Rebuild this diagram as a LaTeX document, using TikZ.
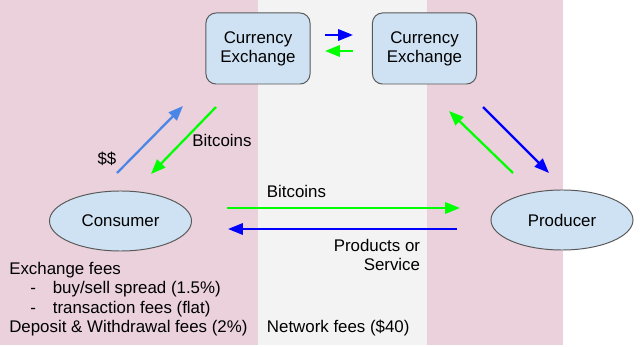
\documentclass[tikz,border=0pt]{standalone}
\usepackage{fontspec}
\setmainfont{Liberation Sans}
\usetikzlibrary{arrows.meta,shapes.geometric}

\definecolor{bgPink}{RGB}{234,209,220}
\definecolor{bgGray}{RGB}{243,243,243}
\definecolor{nodeFill}{RGB}{207,226,243}
\definecolor{nodeLine}{RGB}{89,89,89}
\definecolor{flowBlue}{RGB}{0,0,255}
\definecolor{flowSky}{RGB}{74,134,232}
\definecolor{flowGreen}{RGB}{0,255,0}

\begin{document}
\begin{tikzpicture}[x=0.025cm, y=-0.025cm,
  font=\fontsize{12}{13.7}\selectfont,
  exch/.style={draw=nodeLine, fill=nodeFill, rounded corners=0.25cm,
    minimum width=2.6cm, minimum height=1.775cm, align=center, line width=0.7pt},
  party/.style={ellipse, draw=nodeLine, fill=nodeFill, minimum width=3.55cm,
    minimum height=1.5cm, line width=0.7pt},
  flow/.style={line width=1.6pt, -{Triangle[length=10.5pt, width=8pt]}}]

  \useasboundingbox (0,0) rectangle (640,347);

  % ---- bands ----
  \fill[bgPink] (0,0) rectangle (258,345);
  \fill[bgGray] (258,0) rectangle (427,345);
  \fill[bgPink] (427,0) rectangle (563,345);

  % ---- nodes ----
  \node[exch] (exA) at (258,48.5) {Currency\\Exchange};
  \node[exch] (exB) at (424.5,48.5) {Currency\\Exchange};
  \node[party] (consumer) at (120.5,221) {Consumer};
  \node[party] (producer) at (562,220) {Producer};

  % ---- arrow ends ----
  \coordinate (dolA) at (117,173);  \coordinate (dolB) at (183,106);
  \coordinate (btcA) at (216,107);  \coordinate (btcB) at (151,174);
  \coordinate (topA) at (325,35);   \coordinate (topB) at (353,35);
  \coordinate (topC) at (353,51);   \coordinate (topD) at (325,51);
  \coordinate (rgtA) at (513,173);  \coordinate (rgtB) at (449,111);
  \coordinate (rgtC) at (483,107);  \coordinate (rgtD) at (549,173);
  \coordinate (payA) at (227,208);  \coordinate (payB) at (460,208);
  \coordinate (godA) at (457,229);  \coordinate (godB) at (228,229);

  % ---- flows ----
  \draw[flow, flowSky] (dolA) -- (dolB);
  \draw[flow, flowGreen] (btcA) -- (btcB);
  \draw[flow, flowBlue] (topA) -- (topB);
  \draw[flow, flowGreen] (topC) -- (topD);
  \draw[flow, flowGreen] (rgtA) -- (rgtB);
  \draw[flow, flowBlue] (rgtC) -- (rgtD);
  \draw[flow, flowGreen] (payA) -- (payB);
  \draw[flow, flowBlue] (godA) -- (godB);

  % ---- labels ----
  \node (lblDol) at (107,159) {\$\$};
  \node (lblBtcA) at (222,140) {Bitcoins};
  \node[anchor=west] (lblBtcB) at (262,191) {Bitcoins};
  \node[anchor=east, align=right] (lblGoods) at (425,255) {Products or\\Service};
  \node[anchor=north west, align=left, inner sep=0pt] (lblFees) at (9,262)
    {Exchange fees\\
     \hspace*{15pt}-\hspace{12pt}buy/sell spread (1.5\%)\\
     \hspace*{15pt}-\hspace{12pt}transaction fees (flat)\\
     Deposit \& Withdrawal fees (2\%)};
  \node[anchor=west] (lblNet) at (262,328) {Network fees (\$40)};

\end{tikzpicture}
\end{document}
